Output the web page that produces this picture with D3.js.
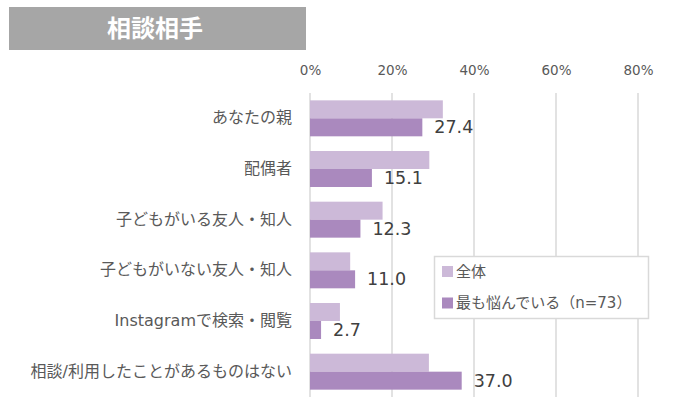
<!DOCTYPE html>
<html><head><meta charset="utf-8">
<script src="https://cdn.jsdelivr.net/npm/d3@7"></script>
<style>html,body{margin:0;padding:0;background:#fff;}svg{display:block;}</style>
</head><body>
<svg id="c" width="685" height="403"></svg>
<script>
const categories = ["あなたの親","配偶者","子どもがいる友人・知人","子どもがいない友人・知人","Instagramで検索・閲覧","相談/利用したことがあるものはない"];
const seriesNames = ["全体","最も悩んでいる（n=73）"];
const allValues = [32.4, 29.1, 17.7, 9.8, 7.3, 29.0];
const worstValues = [27.4, 15.1, 12.3, 11.0, 2.7, 37.0];
const ticks = [0,20,40,60,80];
const titleText = "相談相手";

const colors = ["#ccb9d8","#aa89be"];
const font = "'DejaVu Sans','Noto Sans CJK JP',sans-serif";
const cjk = "'Noto Sans CJK JP','Noto Sans',sans-serif";
const svg = d3.select("#c");

// title
svg.append("rect").attr("x",9).attr("y",7).attr("width",297).attr("height",43).attr("fill","#a6a6a6");
svg.append("text").attr("x",155).attr("y",26).attr("text-anchor","middle").attr("dominant-baseline","central")
  .attr("fill","#fff").attr("font-family",cjk).attr("font-weight","bold").attr("font-size",24).text(titleText);

const x = d3.scaleLinear().domain([0,80]).range([310,638]);
const y = d3.scaleBand().domain(categories).range([93,397]).paddingInner(0.29).paddingOuter(0.145);
const sub = d3.scaleBand().domain([0,1]).range([0,y.bandwidth()]);

// gridlines
svg.append("g").selectAll("line").data(ticks).join("line")
  .attr("x1",d=>x(d)).attr("x2",d=>x(d)).attr("y1",93).attr("y2",397)
  .attr("stroke","#d9d9d9").attr("stroke-width",1.5);

// top axis labels
const ax = svg.append("g").attr("transform","translate(0,75)")
  .call(d3.axisTop(x).tickValues(ticks).tickFormat(d=>d+"%").tickSize(0).tickPadding(0));
ax.select(".domain").remove();
ax.selectAll("text").attr("font-family",font).attr("font-size",13.5).attr("fill","#595959");

// category labels
const ay = svg.append("g").attr("transform","translate(301,0)")
  .call(d3.axisLeft(y).tickSize(0).tickPadding(9));
ay.select(".domain").remove();
ay.selectAll("text").attr("font-family",font).attr("font-size",16).attr("fill","#595959");

// bars
const series = [allValues, worstValues];
series.forEach((vals,si)=>{
  svg.append("g").selectAll("rect").data(vals).join("rect")
    .attr("x",x(0)).attr("y",(d,i)=>y(categories[i])+sub(si))
    .attr("width",d=>x(d)-x(0)).attr("height",sub.bandwidth())
    .attr("fill",colors[si]);
});

// data labels for worst series
svg.append("g").selectAll("text").data(worstValues).join("text")
  .attr("x",d=>x(d)+12).attr("y",(d,i)=>y(categories[i])+sub(1)+sub.bandwidth()/2)
  .attr("dominant-baseline","central")
  .attr("font-family",font).attr("font-size",17.5).attr("fill","#404040")
  .text(d=>d.toFixed(1));

// legend
const lg = svg.append("g");
lg.append("rect").attr("x",434.5).attr("y",256.5).attr("width",214).attr("height",62)
  .attr("fill","#fff").attr("stroke","#d9d9d9").attr("stroke-width",1.5);
seriesNames.forEach((n,i)=>{
  const cy = 271.5 + i*31.5;
  lg.append("rect").attr("x",442).attr("y",cy-5.5).attr("width",11).attr("height",11).attr("fill",colors[i]);
  lg.append("text").attr("x",456).attr("y",cy).attr("dominant-baseline","central")
    .attr("font-family",font).attr("font-size",15).attr("fill","#595959").text(n);
});
</script>
</body></html>
